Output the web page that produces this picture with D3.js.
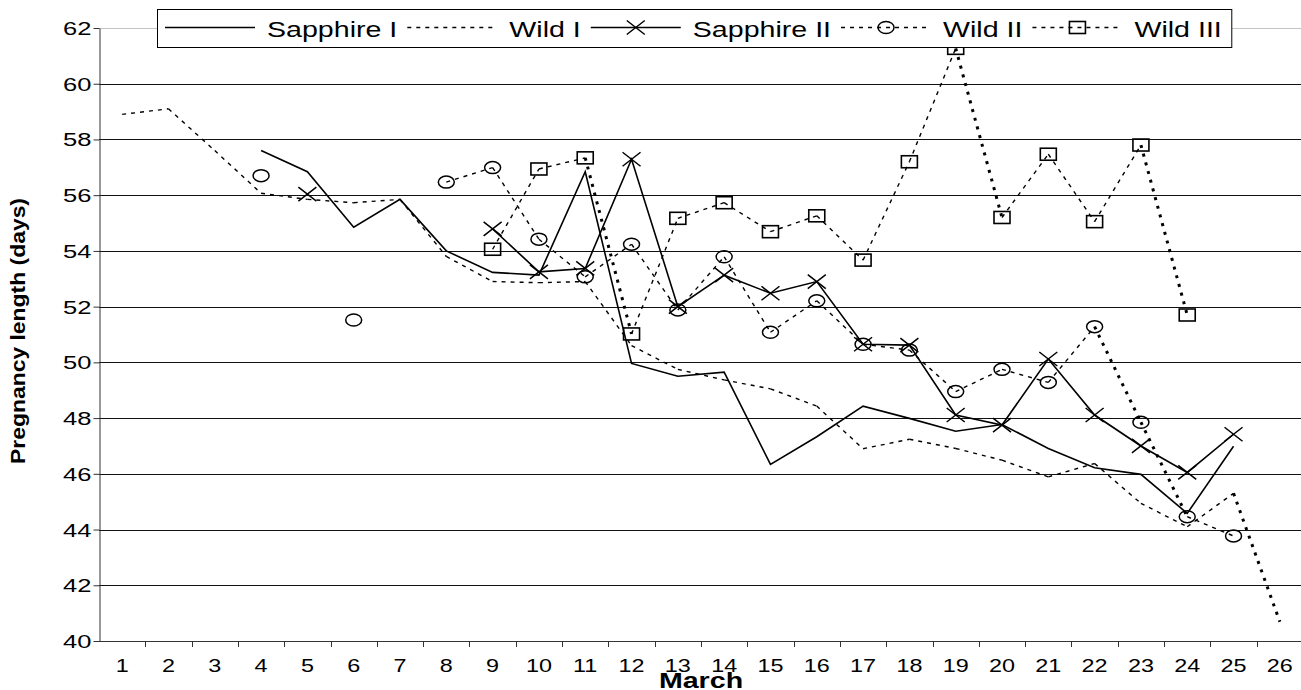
<!DOCTYPE html>
<html><head><meta charset="utf-8">
<script src="https://cdn.jsdelivr.net/npm/d3@7"></script>
<style>
body{margin:0;background:#fff}
svg{display:block}
text{font-family:"Liberation Sans",Arial,sans-serif;fill:#000}
</style>
</head><body>
<svg id="c" width="1301" height="690"></svg>
<script>
const days = [1,2,3,4,5,6,7,8,9,10,11,12,13,14,15,16,17,18,19,20,21,22,23,24,25,26];
const yTicks = [40,42,44,46,48,50,52,54,56,58,60,62];
const seriesNames = ["Sapphire I","Wild I","Sapphire II","Wild II","Wild III"];
const sapphireI = [null,null,null,57.6,56.84,54.85,55.85,54.0,53.23,53.13,56.84,49.96,49.5,49.65,46.34,47.33,48.43,47.99,47.53,47.77,46.91,46.22,45.98,44.58,46.99,null];
const wildI = [58.9,59.1,57.6,56.07,55.85,55.73,55.85,53.8,52.9,52.86,52.9,50.6,49.75,49.37,49.05,48.43,46.9,47.24,46.91,46.49,45.89,46.37,44.94,44.1,45.3,40.69];
const sapphireII = [null,null,null,null,56.04,null,null,null,54.79,53.25,53.37,57.29,52.0,53.13,52.48,52.9,50.65,50.62,48.11,47.75,50.12,48.11,47.0,46.05,47.42,null];
const wildII = [null,null,null,56.7,null,51.52,null,56.47,56.99,54.42,53.07,54.24,51.88,53.79,51.08,52.21,50.65,50.44,48.95,49.75,49.28,51.28,47.85,44.46,43.77,null];
const wildIII = [null,null,null,null,null,null,null,null,54.06,56.94,57.34,51.02,55.17,55.73,54.69,55.26,53.67,57.2,61.27,55.2,57.47,55.05,57.8,51.7,null,null];
const xTitle = "March";
const yTitle = "Pregnancy length (days)";

const SX = 1.3; // horizontal stretch of the original rendering
const svg = d3.select("#c");
const L = 99, R = 1303, T = 28, B = 641;
const x = d3.scaleBand().domain(days).range([L, R]).padding(0);
const cx = d => x(d) + x.bandwidth() / 2;
const y = d3.scaleLinear().domain([40, 62]).range([B, T]);

// gridlines
svg.append("g").selectAll("line").data(yTicks.filter(t => t > 40)).join("line")
  .attr("x1", L).attr("x2", 1301)
  .attr("y1", d => Math.round(y(d)) + 0.5).attr("y2", d => Math.round(y(d)) + 0.5)
  .attr("stroke", d => d === 62 ? "#c4c4c4" : "#111").attr("stroke-width", 1);

const series = [
  {name: seriesNames[0], vals: sapphireI, dash: false, marker: null},
  {name: seriesNames[1], vals: wildI, dash: true, marker: null},
  {name: seriesNames[2], vals: sapphireII, dash: false, marker: "x"},
  {name: seriesNames[3], vals: wildII, dash: true, marker: "o"},
  {name: seriesNames[4], vals: wildIII, dash: true, marker: "s"}
];

const gLines = svg.append("g");
series.forEach(s => {
  const pts = days.map((d, i) => ({d, v: s.vals[i]}));
  if (!s.dash) {
    const line = d3.line().defined(p => p.v != null).x(p => cx(p.d)).y(p => y(p.v));
    gLines.append("path").attr("d", line(pts)).attr("fill", "none")
      .attr("stroke", "#000").attr("stroke-width", 1.6).attr("stroke-linejoin", "miter");
  } else {
    const segs = [];
    for (let i = 0; i < pts.length - 1; i++) {
      if (pts[i].v != null && pts[i + 1].v != null) segs.push([pts[i], pts[i + 1]]);
    }
    gLines.append("g").selectAll("line").data(segs).join("line")
      .attr("x1", s2 => cx(s2[0].d)).attr("y1", s2 => y(s2[0].v))
      .attr("x2", s2 => cx(s2[1].d)).attr("y2", s2 => y(s2[1].v))
      .each(function(s2) {
        const dx = cx(s2[1].d) - cx(s2[0].d), dy = y(s2[1].v) - y(s2[0].v);
        const heavy = dy > 0 && Math.abs(dy) / dx >= 2;
        d3.select(this).attr("stroke", "#000")
          .attr("stroke-width", heavy ? 3 : 1.4)
          .attr("stroke-dasharray", heavy ? "3,6" : "4,5");
      });
  }
});

function drawMarker(g, type) {
  if (type === "x") {
    g.append("path").attr("d", "M-9,-7L9,7M-9,7L9,-7").attr("stroke", "#000").attr("stroke-width", 1.5).attr("fill", "none");
  } else if (type === "o") {
    g.append("ellipse").attr("rx", 8).attr("ry", 6).attr("fill", "none").attr("stroke", "#000").attr("stroke-width", 1.5);
  } else if (type === "s") {
    g.append("rect").attr("x", -8).attr("y", -6).attr("width", 16).attr("height", 12).attr("fill", "none").attr("stroke", "#000").attr("stroke-width", 1.6);
  }
}
const gMarks = svg.append("g");
series.filter(s => s.marker).forEach(s => {
  days.forEach((d, i) => {
    const v = s.vals[i];
    if (v == null) return;
    const g = gMarks.append("g").attr("transform", `translate(${cx(d)},${y(v)})`);
    drawMarker(g, s.marker);
  });
});

// axes
const yAxis = d3.axisLeft(y).tickValues(yTicks).tickSize(6).tickSizeOuter(0).tickFormat(d3.format("d"));
const gy = svg.append("g").attr("transform", `translate(${L + 0.5},0)`).call(yAxis);
gy.select(".domain").attr("stroke", "#333");
gy.selectAll(".tick line").attr("stroke", "#333");
gy.selectAll(".tick text").attr("font-size", 18.5).attr("font-family", "Liberation Sans, Arial, sans-serif")
  .attr("x", -8 / 1.38).attr("dy", "0.35em").attr("transform", `scale(1.38,1)`);

const xAxis = d3.axisBottom(x).tickSize(0).tickSizeOuter(0);
const gx = svg.append("g").attr("transform", `translate(0,${B + 0.5})`).call(xAxis);
gx.select(".domain").remove();
gx.selectAll(".tick text").attr("font-size", 18).attr("font-family", "Liberation Sans, Arial, sans-serif")
  .attr("y", 0).attr("dy", 0)
  .attr("transform", `translate(0,30) scale(${SX},1)`);
svg.append("line").attr("x1", L).attr("x2", 1301).attr("y1", B + 0.5).attr("y2", B + 0.5).attr("stroke", "#333");
svg.append("g").selectAll("line").data(days.slice(1)).join("line")
  .attr("x1", d => Math.round(x(d)) + 0.5).attr("x2", d => Math.round(x(d)) + 0.5)
  .attr("y1", B).attr("y2", B + 6).attr("stroke", "#333");

// titles
svg.append("text").attr("transform", `translate(${(L + R) / 2},688) scale(${SX},1)`)
  .attr("text-anchor", "middle").attr("font-weight", "bold").attr("font-size", 22).text(xTitle);
svg.append("text").attr("transform", `translate(25,331) rotate(-90)`)
  .attr("text-anchor", "middle").attr("font-weight", "bold").attr("font-size", 21)
  .attr("textLength", 266).attr("lengthAdjust", "spacingAndGlyphs").text(yTitle);

// legend
const lg = svg.append("g");
const box = lg.append("rect").attr("y", 9.5).attr("height", 38).attr("fill", "#fff").attr("stroke", "#000").attr("stroke-width", 1);
let cur = 165;
const SW = 90, LY = 27.5;
series.forEach(s => {
  const g = lg.append("g");
  g.append("line").attr("x1", cur).attr("x2", cur + SW).attr("y1", LY).attr("y2", LY)
    .attr("stroke", "#000").attr("stroke-width", s.dash ? 1.4 : 1.6).attr("stroke-dasharray", s.dash ? "4,5" : null);
  if (s.marker) {
    const m = g.append("g").attr("transform", `translate(${cur + SW / 2},${LY})`);
    drawMarker(m, s.marker);
  }
  cur += SW + 12;
  const t = g.append("text").attr("transform", `translate(${cur},36.5) scale(${SX},1)`).attr("font-size", 22).text(s.name);
  cur += t.node().getComputedTextLength() * SX + 10;
});
box.attr("x", 157.5).attr("width", cur - 157.5);
</script>
</body></html>
